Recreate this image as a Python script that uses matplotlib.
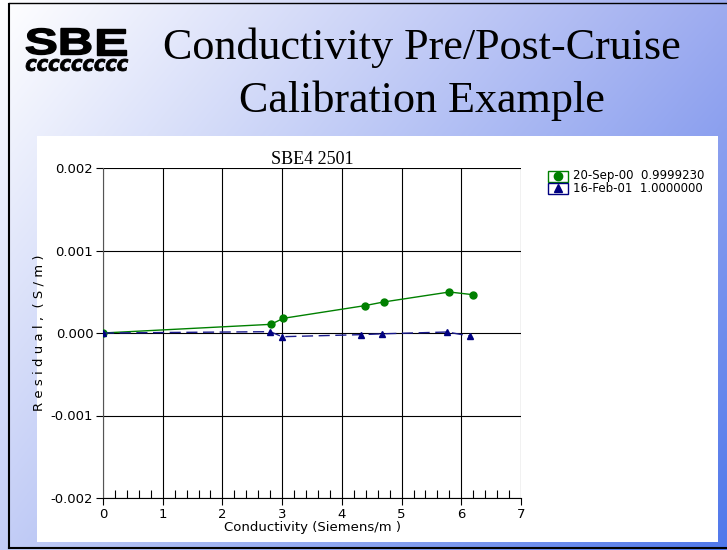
import numpy as np
import matplotlib
matplotlib.use("Agg")
import matplotlib.pyplot as plt
from matplotlib.patches import Rectangle, PathPatch
from matplotlib.textpath import TextPath
from matplotlib.font_manager import FontProperties
from matplotlib.transforms import Affine2D

# ---- data ----
pre_cond = [0.0, 2.81, 3.02, 4.38, 4.70, 5.80, 6.20]
pre_resid = [0.0, 0.000105, 0.000178, 0.000331, 0.000376, 0.000497, 0.000464]
post_cond = [0.0, 2.80, 3.00, 4.32, 4.68, 5.76, 6.14]
post_resid = [0.0, 0.000016, -0.000045, -0.000020, -0.000010, 0.000012, -0.000036]
legend_labels = ["20-Sep-00  0.9999230", "16-Feb-01  1.0000000"]
x_ticks = [0, 1, 2, 3, 4, 5, 6, 7]
y_ticks = [-0.002, -0.001, 0.0, 0.001, 0.002]
y_ticklabels = ["-0.002", "-0.001", "0.000", "0.001", "0.002"]

W, H = 727, 550
fig = plt.figure(figsize=(W / 100, H / 100), dpi=100)

# ---- slide background gradient ----
bg = fig.add_axes([0, 0, 1, 1])
bg.set_axis_off()
tl = np.array([255, 255, 255]) / 255
tr = np.array([158, 172, 240]) / 255
bl = np.array([195, 205, 246]) / 255
br = np.array([80, 120, 235]) / 255
u = np.linspace(0, 1, 200)[None, :, None]
v = np.linspace(0, 1, 150)[:, None, None]
img = (1 - u) * (1 - v) * tl + u * (1 - v) * tr + (1 - u) * v * bl + u * v * br
bg.imshow(img, extent=[0, W, H, 0], aspect="auto", interpolation="bilinear")
bg.set_xlim(0, W)
bg.set_ylim(H, 0)
# border
bg.plot([9, 9], [4, 548], color="black", lw=1.5)
bg.plot([9, W], [548, 548], color="black", lw=1.5)
bg.plot([9, W], [3, 3], color="black", lw=1.0)
# white panel
bg.add_patch(Rectangle((37, 136), 681, 406, facecolor="white", edgecolor="none"))

# slide title
bg.text(422, 48, "Conductivity Pre/Post-Cruise", ha="center", va="center",
        fontsize=31.8, family="Liberation Serif", color="black")
bg.text(422, 101, "Calibration Example", ha="center", va="center",
        fontsize=31.8, family="Liberation Serif", color="black")


def fit_text(s, x0, x1, y0, y1, fp, lw=0.6):
    tp = TextPath((0, 0), s, size=10, prop=fp)
    ext = tp.get_extents()
    sx = (x1 - x0) / ext.width
    sy = (y1 - y0) / ext.height
    tr_ = (Affine2D().translate(-ext.x0, -ext.y0).scale(sx, -sy)
           .translate(x0, y1))
    path = tr_.transform_path(tp)
    bg.add_patch(PathPatch(path, facecolor="black", edgecolor="black", lw=lw))


# logo: letters placed side by side
logo_fp = FontProperties(family="Liberation Sans", weight="bold")
fit_text("S", 26, 56, 28.5, 54.5, logo_fp, lw=1.0)
fit_text("B", 61, 91, 28.5, 54.5, logo_fp, lw=1.0)
fit_text("E", 97, 126, 28.5, 54.5, logo_fp, lw=1.0)
fit_text("ccccccccc", 26, 128, 59, 71,
         FontProperties(family="DejaVu Sans", weight="bold", style="italic"))

# ---- chart ----
ax = fig.add_axes([103 / W, 52 / H, 418 / W, 330 / H])
ax.set_xlim(0, 7)
ax.set_ylim(-0.002, 0.002)
ax.set_xticks(x_ticks)
ax.set_xticklabels([str(t) for t in x_ticks])
ax.set_xticks(np.arange(0, 7.01, 0.2), minor=True)
ax.set_yticks(y_ticks)
ax.set_yticklabels(y_ticklabels)
ax.grid(True, which="major", color="black", lw=0.8)
for s in ax.spines.values():
    s.set_visible(False)
ax.spines["left"].set_visible(True)
ax.spines["bottom"].set_visible(True)
ax.spines["left"].set_color("#555555")
ax.spines["bottom"].set_color("black")
ax.tick_params(axis="both", which="major", direction="out", length=5, width=0.8,
               labelsize=9.5, pad=2)
ax.tick_params(axis="x", which="minor", direction="in", length=6, width=0.8)
ax.tick_params(axis="y", which="minor", length=0)

ax.plot(pre_cond, pre_resid, color="#008000", lw=1.0, marker="o", ms=5,
        markeredgecolor="#008000", markerfacecolor="#008000", zorder=3)
ax.plot(post_cond, post_resid, color="#1a1a8c", lw=1.0, ls=(0, (8, 4)),
        marker="^", ms=5, markeredgecolor="#000080", markerfacecolor="#000080", zorder=4)

ax.set_title("SBE4 2501", family="Liberation Serif", fontsize=13, pad=3)
ax.set_xlabel("Conductivity (Siemens/m )", fontsize=9.5, labelpad=0)
ax.set_ylabel("R e s i d u a l ,  ( S / m )", fontsize=9.5, labelpad=4)

# ---- legend (custom, outside axes) ----
for i, (lab, col, mk) in enumerate(zip(legend_labels, ["#008000", "#000080"], ["o", "^"])):
    y = 176 + i * 12
    bg.add_patch(Rectangle((548, y - 5.5), 20, 11, facecolor="white",
                           edgecolor=col, lw=1.0))
    bg.plot([558], [y], marker=mk, color=col, ms=6)
    bg.text(573, y, lab, ha="left", va="center", fontsize=8.5, family="DejaVu Sans")

fig.savefig("out.png", dpi=100)
